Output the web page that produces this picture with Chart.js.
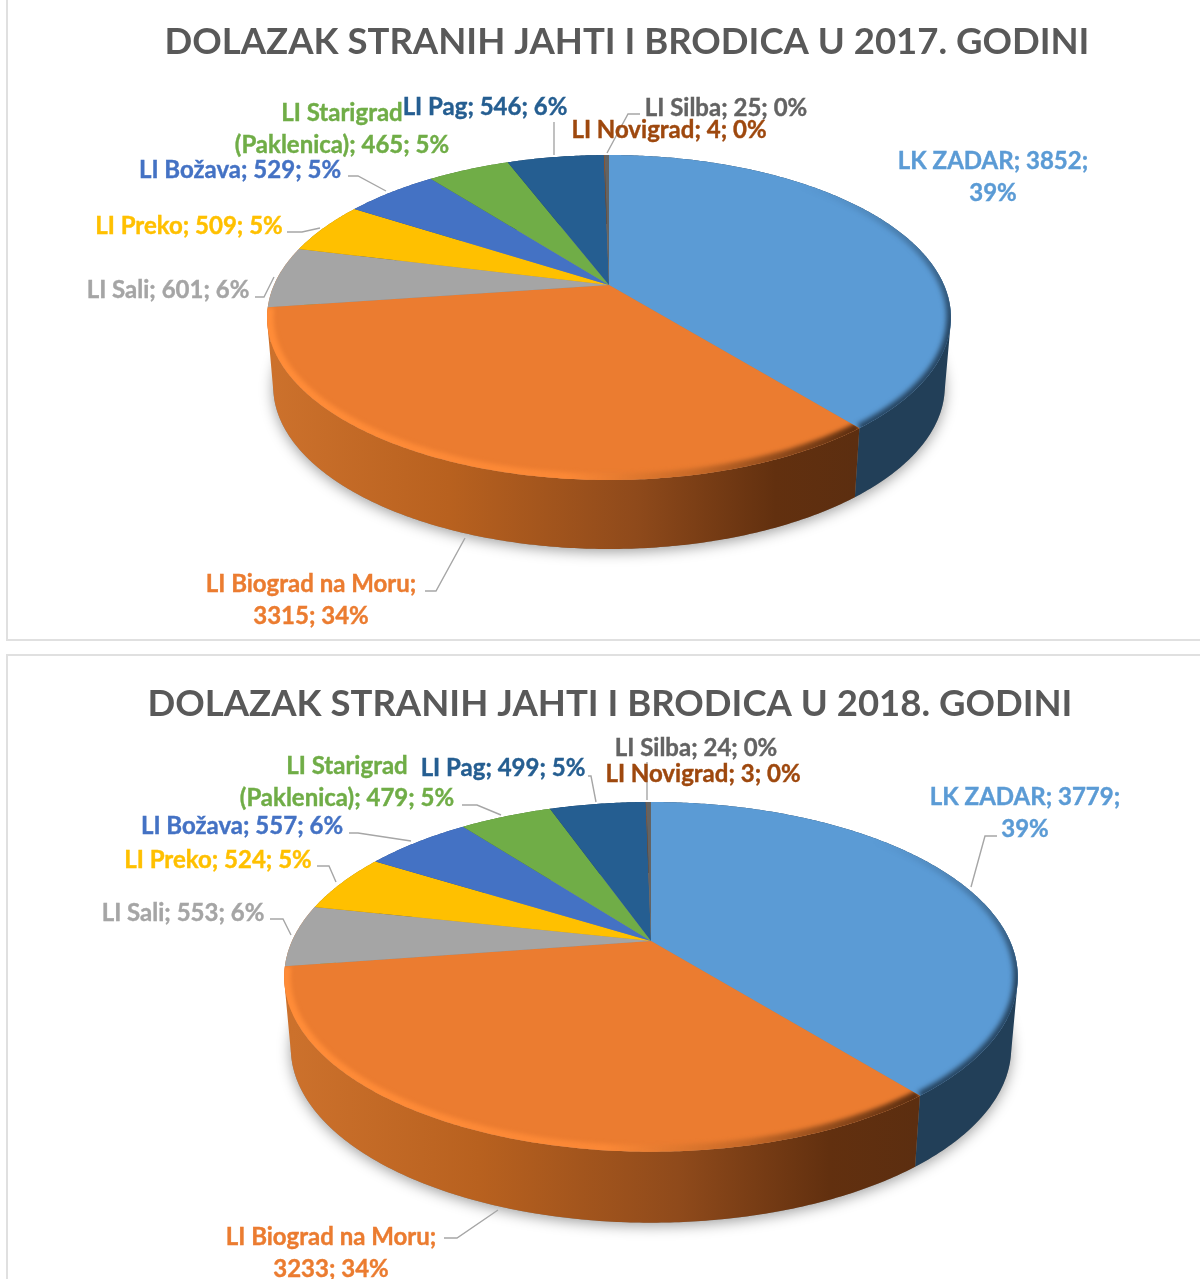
<!DOCTYPE html>
<html>
<head>
<meta charset="utf-8">
<title>Dolazak stranih jahti i brodica</title>
<script src="https://cdn.jsdelivr.net/npm/chart.js@4"></script>
<style>
  html, body { margin: 0; background: #fff; overflow: hidden; }
  body { width: 1200px; height: 1279px; position: relative; }
  .frame { position: absolute; left: 6px; width: 1200px; border: 2px solid #e0e0e0; box-sizing: border-box; }
  canvas { position: absolute; left: 0; }
</style>
</head>
<body>
<div class="frame" style="top:-2px;height:643px"></div>
<div class="frame" style="top:654px;height:700px"></div>
<canvas id="chart2017" width="1200" height="645" style="top:0"></canvas>
<canvas id="chart2018" width="1200" height="629" style="top:650px"></canvas>
<script>
const categories = ['LK ZADAR', 'LI Biograd na Moru', 'LI Sali', 'LI Preko', 'LI Božava', 'LI Starigrad (Paklenica)', 'LI Pag', 'LI Novigrad', 'LI Silba'];
const values2017 = [3852, 3315, 601, 509, 529, 465, 546, 4, 25];
const values2018 = [3779, 3233, 553, 524, 557, 479, 499, 3, 24];
const percents2017 = [39, 34, 6, 5, 5, 5, 6, 0, 0];
const percents2018 = [39, 34, 6, 5, 6, 5, 5, 0, 0];
const colors = ['#5B9BD5', '#EB7C30', '#A5A5A5', '#FFC000', '#4472C4', '#70AD47', '#255E91', '#9E480E', '#636363'];
// the grey slice's wall only shows as the end of the orange one
const wallColors = ['#223F58', '#B05D22', '#CC712C', '#A67C00', '#2C4A80', '#48702E', '#183D5E', '#672F09', '#404040'];

const FONT = '"Lato", "Open Sans", sans-serif';

// where things sit on the page, one entry per category, same order as above
const layout2017 = {
  top: 0, title: 'DOLAZAK STRANIH JAHTI I BRODICA U 2017. GODINI', titleX: 627, titleY: 42,
  cx: 609, cy: 285, a: 335, b: 156, k: 0.2, depth: 69,
  labels: [
    { x: 993, y: 161, lines: ['LK ZADAR; 3852;', '39%'] },
    { x: 311, y: 584, lines: ['LI Biograd na Moru;', '3315; 34%'] },
    { x: 168, y: 290 }, { x: 189, y: 226 }, { x: 240, y: 170 },
    { x: 342, y: 113, lines: ['LI Starigrad', '(Paklenica); 465; 5%'] },
    { x: 485, y: 107 }, { x: 669, y: 130 }, { x: 726, y: 108 }
  ],
  leaders: [
    [[425, 591], [436, 591], [465, 538]],
    [[255, 297], [264, 297], [274, 277]],
    [[287, 232], [302, 232], [320, 228]],
    [[348, 176], [358, 176], [386, 191]],
    [[554, 122], [554, 155]],
    [[640, 114], [628, 114], [607, 153]]
  ]
};
const layout2018 = {
  top: 650, title: 'DOLAZAK STRANIH JAHTI I BRODICA U 2018. GODINI', titleX: 610, titleY: 704,
  cx: 651, cy: 941, a: 359, b: 167.5, k: 0.205, depth: 71,
  labels: [
    { x: 1025, y: 797, lines: ['LK ZADAR; 3779;', '39%'] },
    { x: 331, y: 1237, lines: ['LI Biograd na Moru;', '3233; 34%'] },
    { x: 183, y: 913 }, { x: 218, y: 860 }, { x: 242, y: 826 },
    { x: 347, y: 766, lines: ['LI Starigrad', '(Paklenica); 479; 5%'] },
    { x: 503, y: 768 }, { x: 703, y: 774 }, { x: 696, y: 748 }
  ],
  leaders: [
    [[997, 836], [985, 836], [971, 887]],
    [[444, 1238], [457, 1238], [498, 1210]],
    [[270, 919], [283, 919], [291, 935]],
    [[317, 866], [329, 866], [336, 882]],
    [[349, 833], [358, 833], [411, 841]],
    [[462, 805], [477, 805], [501, 815]],
    [[588, 776], [591, 776], [596, 802]],
    [[647, 762], [647, 800]]
  ]
};

// the circle seen in perspective: the centre is not the middle of the ellipse
function project(g, angle) {
  const u = Math.sin(angle), v = -Math.cos(angle), w = 1 - g.k * v;
  return [g.cx + g.a * u / w, g.cy + g.b * v / w];
}
function bottomPoint(g, angle) {
  const p = project(g, angle);
  return [g.cx + (p[0] - g.cx) * 0.982, p[1] + g.depth];
}
function arcPoints(fn, g, from, to) {
  const pts = [], n = Math.max(2, Math.ceil((to - from) / 0.01));
  for (let i = 0; i <= n; i++) pts.push(fn(g, from + (to - from) * i / n));
  return pts;
}
function tracePath(ctx, pts) {
  ctx.beginPath();
  pts.forEach((p, i) => i ? ctx.lineTo(p[0], p[1]) : ctx.moveTo(p[0], p[1]));
}
// wall of one slice: a quad per small step, all wound the same way so they fill as a union
function traceWall(ctx, g, from, to) {
  const top = arcPoints(project, g, from, to), bottom = arcPoints(bottomPoint, g, from, to);
  ctx.beginPath();
  for (let i = 0; i < top.length - 1; i++) {
    let quad = [top[i], top[i + 1], bottom[i + 1], bottom[i]];
    let area = 0;
    quad.forEach((p, j) => {
      const q = quad[(j + 1) % 4];
      area += p[0] * q[1] - q[0] * p[1];
    });
    if (area < 0) quad = quad.reverse();
    quad.forEach((p, j) => j ? ctx.lineTo(p[0], p[1]) : ctx.moveTo(p[0], p[1]));
    ctx.closePath();
  }
}

const pie3d = {
  id: 'pie3d',
  beforeDatasetDraw() { return false; },
  afterDatasetsDraw(chart, args, g) {
    const ctx = chart.ctx;
    const arcs = chart.getDatasetMeta(0).data.map(el => ({
      from: el.startAngle + Math.PI / 2, to: el.endAngle + Math.PI / 2
    }));
    ctx.save();
    ctx.translate(0, -g.top);

    // soft shadow under the disc
    ctx.save();
    ctx.shadowColor = 'rgba(0,0,0,0.38)';
    ctx.shadowBlur = 14;
    ctx.shadowOffsetY = 3;
    ctx.fillStyle = '#888';
    tracePath(ctx, arcPoints(bottomPoint, g, 0, Math.PI * 2));
    ctx.fill();
    ctx.restore();

    // side walls
    arcs.forEach((arc, i) => {
      if (i === 1) {
        const grad = ctx.createLinearGradient(g.cx - g.a, 0, g.cx + g.a * 0.74, 0);
        grad.addColorStop(0, '#CC712C');
        grad.addColorStop(0.3, '#B8611F');
        grad.addColorStop(0.62, '#8F4A1B');
        grad.addColorStop(0.86, '#62300F');
        grad.addColorStop(1, '#5C2E10');
        ctx.fillStyle = grad;
      } else {
        ctx.fillStyle = wallColors[i];
      }
      traceWall(ctx, g, arc.from, arc.to);
      ctx.fill();
    });

    // top faces with the bevel along the front edge
    arcs.forEach((arc, i) => {
      const pts = [[g.cx, g.cy]].concat(arcPoints(project, g, arc.from, arc.to));
      ctx.fillStyle = colors[i];
      tracePath(ctx, pts);
      ctx.closePath();
      ctx.fill();
      if (i > 1) return;
      ctx.save();
      ctx.clip();
      ctx.lineJoin = 'round';
      if (i === 0) {
        const rim = ctx.createLinearGradient(0, g.cy - 100, 0, g.cy + 40);
        rim.addColorStop(0, 'rgba(38,68,96,0)');
        rim.addColorStop(1, 'rgba(38,68,96,1)');
        ctx.filter = 'blur(2.5px)';
        ctx.strokeStyle = rim;
        ctx.lineWidth = 9;
        tracePath(ctx, arcPoints(project, g, 0.7, arc.to));
      } else {
        const rim = ctx.createLinearGradient(g.cx - g.a, 0, g.cx + g.a * 0.74, 0);
        rim.addColorStop(0, '#FF8C38');
        rim.addColorStop(0.5, '#FB8836');
        rim.addColorStop(0.72, '#C86A28');
        rim.addColorStop(1, '#5C2E10');
        ctx.filter = 'blur(2px)';
        ctx.strokeStyle = rim;
        ctx.lineWidth = 13;
        tracePath(ctx, arcPoints(project, g, arc.from, arc.to));
      }
      ctx.stroke();
      ctx.restore();
    });

    // leader lines
    ctx.strokeStyle = '#A6A6A6';
    ctx.lineWidth = 1.4;
    g.leaders.forEach(line => {
      tracePath(ctx, line);
      ctx.stroke();
    });

    // data labels, with a hairline stroke because Lato bold is lighter than the original face
    const values = chart.data.datasets[0].data;
    const percents = chart.data.datasets[0].percents;
    ctx.font = 'bold 24px ' + FONT;
    ctx.textAlign = 'center';
    ctx.textBaseline = 'middle';
    ctx.lineWidth = 0.4;
    g.labels.forEach((lab, i) => {
      const lines = lab.lines || [chart.data.labels[i] + '; ' + values[i] + '; ' + percents[i] + '%'];
      ctx.fillStyle = colors[i];
      ctx.strokeStyle = colors[i];
      lines.forEach((t, j) => {
        ctx.fillText(t, lab.x, lab.y + j * 32.5);
        ctx.strokeText(t, lab.x, lab.y + j * 32.5);
      });
    });

    // chart title
    ctx.font = 'bold 36.5px ' + FONT;
    ctx.fillStyle = '#595959';
    ctx.fillText(g.title, g.titleX, g.titleY);
    ctx.restore();
  }
};

function makeChart(id, values, percents, geometry) {
  return new Chart(document.getElementById(id), {
    type: 'pie',
    data: {
      labels: categories,
      datasets: [{ label: 'Dolasci', data: values, percents: percents, backgroundColor: colors, borderWidth: 0 }]
    },
    options: {
      responsive: false,
      animation: false,
      events: [],
      plugins: { legend: { display: false }, tooltip: { enabled: false }, pie3d: geometry }
    },
    plugins: [pie3d]
  });
}

makeChart('chart2017', values2017, percents2017, layout2017);
makeChart('chart2018', values2018, percents2018, layout2018);
</script>
</body>
</html>
